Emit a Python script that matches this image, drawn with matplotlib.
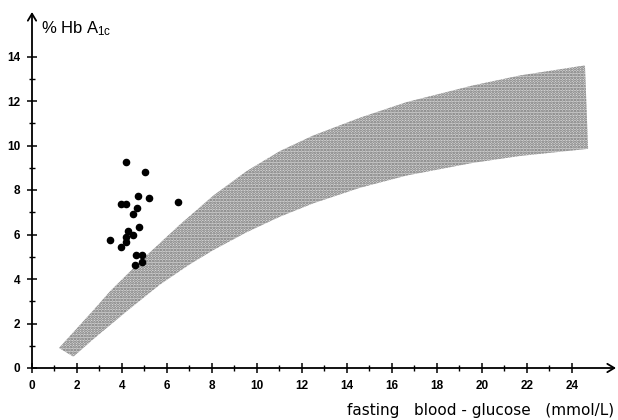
import matplotlib.pyplot as plt
import numpy as np

# scatter points (fasting blood glucose, % HbA1c)
glucose = [4.18, 5.02, 4.71, 5.19, 3.94, 4.19, 6.47, 4.67, 4.50, 4.77,
           4.27, 4.47, 4.18, 3.48, 4.19, 3.96, 4.62, 4.89, 4.87, 4.58]
hba1c = [9.25, 8.83, 7.72, 7.66, 7.37, 7.37, 7.48, 7.18, 6.92, 6.33,
         6.14, 5.96, 5.89, 5.74, 5.66, 5.45, 5.06, 5.09, 4.76, 4.62]

# shaded reference band, upper and lower edges
upper_x = [1.2, 2.73, 3.47, 4.87, 6.58, 8.06, 9.54, 11.02, 12.5, 14.58,
           16.65, 19.6, 21.7, 24.58]
upper_y = [0.90, 2.6, 3.45, 4.85, 6.45, 7.75, 8.85, 9.75, 10.45, 11.25,
           11.95, 12.7, 13.15, 13.6]
lower_x = [1.2, 1.84, 2.73, 4.21, 5.69, 7.0, 8.06, 9.54, 11.02, 12.5,
           14.58, 16.65, 19.6, 21.7, 24.72]
lower_y = [0.90, 0.51, 1.3, 2.55, 3.75, 4.65, 5.3, 6.1, 6.8, 7.4,
           8.1, 8.65, 9.22, 9.53, 9.85]

xticks = [0, 2, 4, 6, 8, 10, 12, 14, 16, 18, 20, 22, 24]
yticks = [0, 2, 4, 6, 8, 10, 12, 14]

plt.rcParams['font.family'] = ['Liberation Sans', 'DejaVu Sans']
plt.rcParams['mathtext.default'] = 'regular'
plt.rcParams['hatch.linewidth'] = 1.3

fig = plt.figure(figsize=(6.18, 4.2), dpi=100)
ax = fig.add_axes([32 / 618, 52 / 420, 584 / 618, 356 / 420])
ax.set_xlim(0, 25.96)
ax.set_ylim(0, 16.0)

# band polygon
px = upper_x + lower_x[::-1]
py = upper_y + lower_y[::-1]
ax.fill(px, py, facecolor='#d8d8d8', edgecolor='none', zorder=1)
ax.fill(px, py, facecolor='none', edgecolor='#707070', hatch='......',
        linewidth=0, zorder=1)

ax.scatter(glucose, hba1c, s=20, color='black', zorder=3)

# axes drawn as arrows
for s in ax.spines.values():
    s.set_visible(False)
ax.annotate('', xy=(0, 16.0), xytext=(0, 0), annotation_clip=False,
            arrowprops=dict(arrowstyle='->,head_length=0.5,head_width=0.3',
                            lw=1.3, color='black', shrinkA=0, shrinkB=0))
ax.annotate('', xy=(25.96, 0), xytext=(0, 0), annotation_clip=False,
            arrowprops=dict(arrowstyle='->,head_length=0.5,head_width=0.3',
                            lw=1.3, color='black', shrinkA=0, shrinkB=0))

ax.set_xticks(xticks)
ax.set_yticks(yticks)
ax.set_xticks(np.arange(1, 25, 2), minor=True)
ax.set_yticks(np.arange(1, 15, 2), minor=True)
ax.tick_params(which='major', direction='inout', length=7, width=1.1,
               labelsize=8.5, pad=5)
ax.tick_params(which='minor', direction='inout', length=5, width=1.0)
for lab in ax.get_xticklabels() + ax.get_yticklabels():
    lab.set_fontweight('bold')

ax.text(0.4, 15.25, '% Hb A$_{1c}$', fontsize=12, ha='left', va='center')
fig.text(614 / 618, 1 - 410 / 420, 'fasting   blood - glucose   (mmol/L)',
         fontsize=11, family='DejaVu Sans', ha='right', va='center')

fig.savefig('out.png', dpi=100)
